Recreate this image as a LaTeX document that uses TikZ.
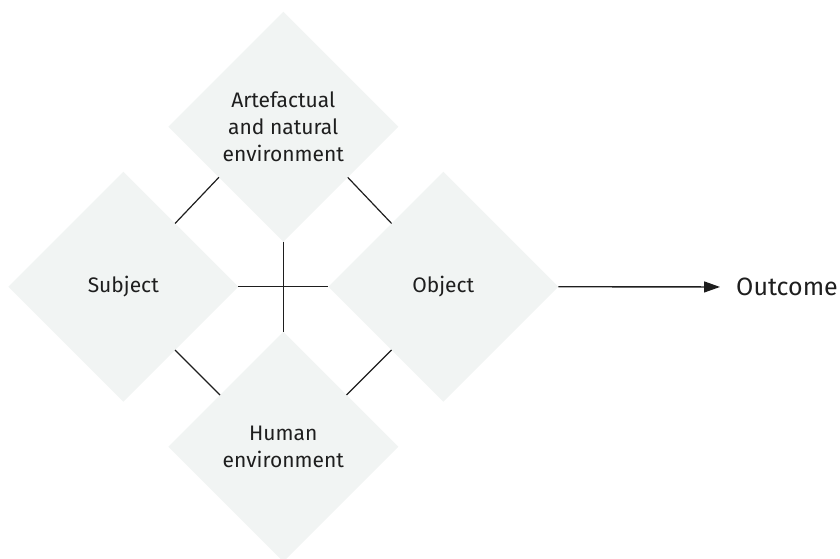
\documentclass[tikz,border=0pt]{standalone}
\usepackage{fontspec}
\setmainfont{Fira Sans}
\usetikzlibrary{shapes.geometric,calc,arrows.meta}
\definecolor{panel}{HTML}{F1F4F3}
\definecolor{ink}{HTML}{1E1E1E}
\begin{document}
\begin{tikzpicture}[x=1pt,y=-1pt,
  area/.style={shape=diamond, fill=panel, draw=none, minimum width=230pt,
    minimum height=230pt, inner sep=0pt, outer sep=0pt, text=ink,
    align=center, font=\fontsize{21}{27}\selectfont},
  link/.style={draw=ink, line width=1.2pt},
  lead/.style={draw=ink, line width=1.4pt, -{Triangle[length=16pt,width=11pt]}}]
  \useasboundingbox (0,0) rectangle (840,558);
  \clip (0,0) rectangle (840,558);

  % the four activity elements
  \node[area] (art)  at (283.3,126.7) {Artefactual\\and natural\\environment};
  \node[area] (subj) at (123.3,286.7) {Subject};
  \node[area] (obj)  at (443.3,286.7) {Object};
  \node[area] (hum)  at (283.3,446.7) {Human\\environment};

  % result of the activity
  \node[anchor=west, inner sep=0pt, text=ink, font=\fontsize{25}{30}\selectfont]
    (outc) at (736,287) {Outcome};

  % links between neighbouring elements
  \draw[link] ($(art.west)!0.44!(art.south)$) -- ($(subj.north)!0.45!(subj.east)$);
  \draw[link] ($(art.east)!0.44!(art.south)$) -- ($(obj.north)!0.45!(obj.west)$);
  \draw[link] ($(subj.south)!0.45!(subj.east)$) -- ($(hum.west)!0.45!(hum.north)$);
  \draw[link] ($(obj.south)!0.45!(obj.west)$) -- ($(hum.east)!0.45!(hum.north)$);

  % central cross
  \draw[link] (subj.east) -- (obj.west);
  \draw[link] (art.south) -- (hum.north);

  % arrow to the outcome
  \draw[lead, shorten >=16pt] (obj.east) -- (outc.west);
\end{tikzpicture}
\end{document}
